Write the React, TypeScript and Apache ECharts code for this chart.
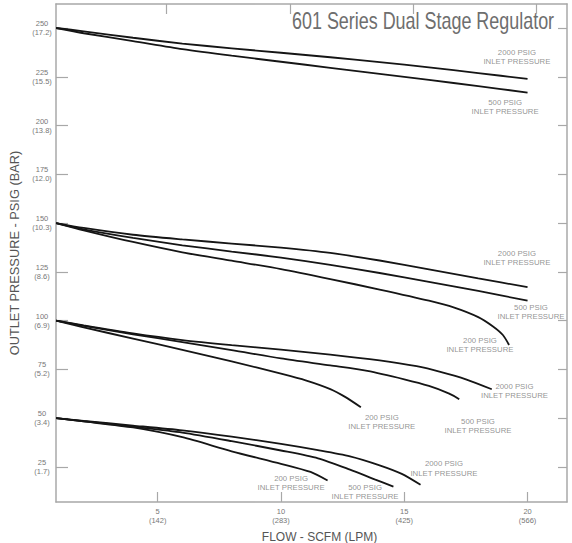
import React, { useEffect, useRef } from "react";
import * as echarts from "echarts";

// Axis ticks
const xTicks = [5, 10, 15, 20];
const xTickLpm = ["142", "283", "425", "566"];
const yTicks = [25, 50, 75, 100, 125, 150, 175, 200, 225, 250];
const yTickBar = ["1.7", "3.4", "5.2", "6.9", "8.6", "10.3", "12.0", "13.8", "15.5", "17.2"];

// Curves: [flow SCFM, outlet pressure PSIG]
const s250_2000 = [[0.88, 250], [2, 248.3], [4, 245.0], [6, 242.0], [8, 239.6], [10, 237.3], [12, 235.0], [14, 232.5], [16, 229.8], [18, 226.9], [20, 223.9]];
const s250_500 = [[0.88, 250], [2, 247.3], [4, 243.3], [6, 239.2], [8, 235.8], [10, 232.7], [12, 229.6], [14, 226.5], [16, 223.4], [18, 220.2], [20, 216.9]];

const s150_2000 = [[0.88, 150], [2, 147.5], [4, 144], [6, 141.6], [8, 139.5], [10, 137.4], [12, 134.7], [14, 130.8], [16, 126.3], [18, 121.7], [20, 117.1]];
const s150_500 = [[0.88, 150], [2, 146.8], [4, 142.4], [6, 138.6], [8, 135.4], [10, 132.3], [12, 128.6], [14, 124.4], [16, 119.9], [18, 115.2], [20, 110.2]];
const s150_200 = [[0.88, 150], [2, 146.3], [4, 140.3], [6, 135], [8, 130.7], [10, 126.4], [12, 121.3], [14, 115.9], [16, 110.2], [17, 106.8], [18, 101.8], [18.6, 97], [19.0, 92.6], [19.25, 87.5]];

const s100_2000 = [[0.88, 100], [2, 97.5], [4, 93.4], [6, 90], [8, 87.4], [10, 85.1], [12, 82.6], [14, 79.6], [15.5, 76.6], [16.5, 73.6], [17.5, 69.9], [18.55, 64.8]];
const s100_500 = [[0.88, 100], [2, 97.3], [4, 93], [6, 89], [8, 84.9], [10, 80.6], [12, 77], [13.5, 74.2], [15, 69.9], [16, 66.5], [16.8, 62.7], [17.23, 59.7]];
const s100_200 = [[0.88, 100], [2, 96.5], [4, 90.8], [6, 85], [8, 79.1], [10, 72.8], [11, 69.4], [12, 64.9], [12.6, 60.9], [13.24, 55.6]];

const s50_2000 = [[0.88, 50], [2, 48.6], [4, 46.2], [6, 43.7], [8, 40.5], [10, 36.8], [11.5, 33.6], [12.8, 30.4], [14, 25.8], [14.9, 21.4], [15.66, 15.8]];
const s50_500 = [[0.88, 50], [2, 48.4], [4, 45.6], [6, 42.6], [8, 38.2], [10, 33.4], [11.5, 29.4], [12.8, 23.6], [13.8, 18.6], [14.56, 14.9]];
const s50_200 = [[0.88, 50], [2, 48.3], [4, 45.2], [6, 40.2], [8, 33], [10, 26.6], [11.2, 22.4], [11.89, 18.0]];

// Curve annotations: [flow, pressure, inlet pressure]
const annotations = [
  [19.57, 235.1, "2000 PSIG"],
  [19.09, 209.5, "500 PSIG"],
  [19.57, 132.1, "2000 PSIG"],
  [20.14, 104.4, "500 PSIG"],
  [18.07, 87.4, "200 PSIG"],
  [19.47, 63.9, "2000 PSIG"],
  [17.99, 46.0, "500 PSIG"],
  [14.09, 48.1, "200 PSIG"],
  [16.61, 24.1, "2000 PSIG"],
  [13.41, 12.2, "500 PSIG"],
  [10.41, 16.8, "200 PSIG"],
];

const curves = [s250_2000, s250_500, s150_2000, s150_500, s150_200, s100_2000, s100_500, s100_200, s50_2000, s50_500, s50_200];

const FONT = "'Liberation Sans', Arial, Helvetica, sans-serif";
const AXIS_COLOR = "#a8a8a8";

export default function App() {
  const ref = useRef<HTMLDivElement>(null);
  useEffect(() => {
    if (!ref.current) return;
    document.body.style.overflow = "hidden";
    const chart = echarts.init(ref.current, undefined, { renderer: "svg" });
    const axisLine = { show: true, onZero: false, lineStyle: { color: AXIS_COLOR, width: 1.5 } };
    const option: any = {
      animation: false,
      backgroundColor: "#fff",
      grid: { left: 56, right: 5, top: 4, bottom: 41, containLabel: false, outerBoundsMode: "none" },
      xAxis: [
        {
          type: "value",
          position: "bottom",
          min: 0.876,
          max: 21.6,
          axisLine,
          axisTick: { show: true, inside: true, length: 10, customValues: xTicks, lineStyle: { color: AXIS_COLOR, width: 1.2 } },
          axisLabel: {
            customValues: xTicks,
            formatter: (v: number) => {
              const i = xTicks.indexOf(v);
              return `${v}\n(${xTickLpm[i]})`;
            },
            fontSize: 7.5,
            lineHeight: 8.8,
            color: "#777",
            margin: 5,
            fontFamily: FONT,
          },
          splitLine: { show: false },
          name: "FLOW - SCFM (LPM)",
          nameLocation: "middle",
          nameGap: 29,
          nameTextStyle: { fontSize: 12, color: "#555", fontFamily: FONT, padding: [0, 0, 0, 16] },
        },
        {
          type: "value",
          position: "top",
          min: 0.516,
          max: 21.24,
          axisLine,
          axisTick: { show: true, inside: true, length: 10, customValues: xTicks, lineStyle: { color: AXIS_COLOR, width: 1.2 } },
          axisLabel: { show: false },
          splitLine: { show: false },
        },
      ],
      yAxis: [
        {
          type: "value",
          position: "left",
          min: 7,
          max: 262.3,
          axisLine,
          axisTick: { show: true, inside: true, length: 12, customValues: yTicks, lineStyle: { color: AXIS_COLOR, width: 1.2 } },
          axisLabel: {
            customValues: yTicks,
            formatter: (v: number) => {
              const i = yTicks.indexOf(v);
              return `${v}\n(${yTickBar[i]})`;
            },
            align: "center",
            fontSize: 7.5,
            lineHeight: 9,
            color: "#777",
            margin: 14,
            fontFamily: FONT,
          },
          splitLine: { show: false },
          name: "OUTLET PRESSURE - PSIG (BAR)",
          nameLocation: "middle",
          nameGap: 32,
          nameTextStyle: { fontSize: 12.8, color: "#555", fontFamily: FONT },
        },
        {
          type: "value",
          position: "right",
          min: 7,
          max: 262.3,
          axisLine,
          axisTick: { show: true, inside: true, length: 9, customValues: yTicks, lineStyle: { color: AXIS_COLOR, width: 1.2 } },
          axisLabel: { show: false },
          splitLine: { show: false },
        },
      ],
      series: [
        ...curves.map((d) => ({
          type: "line",
          data: d,
          xAxisIndex: 0,
          yAxisIndex: 0,
          showSymbol: false,
          smooth: 0.25,
          lineStyle: { color: "#151515", width: 1.8 },
          silent: true,
        })),
        {
          type: "scatter",
          xAxisIndex: 0,
          yAxisIndex: 0,
          data: annotations,
          symbolSize: 1,
          itemStyle: { color: "rgba(0,0,0,0)" },
          label: {
            show: true,
            position: "inside",
            formatter: (p: any) => `${p.data[2]}\nINLET PRESSURE`,
            fontSize: 7.8,
            lineHeight: 9.5,
            color: "#777",
            fontFamily: FONT,
            align: "center",
            verticalAlign: "middle",
          },
          silent: true,
        },
      ],
      graphic: [
        {
          type: "group",
          x: 292,
          y: 21,
          scaleX: 0.78,
          children: [
            {
              type: "text",
              style: {
                text: "601 Series Dual Stage Regulator",
                fontSize: 23,
                fontFamily: FONT,
                fill: "#6e6e6e",
                align: "left",
                verticalAlign: "middle",
              },
            },
          ],
        },
      ],
    };
    chart.setOption(option);
    return () => chart.dispose();
  }, []);
  return <div ref={ref} style={{ width: 572, height: 543, position: "absolute", left: 0, top: 0, overflow: "hidden" }} />;
}
